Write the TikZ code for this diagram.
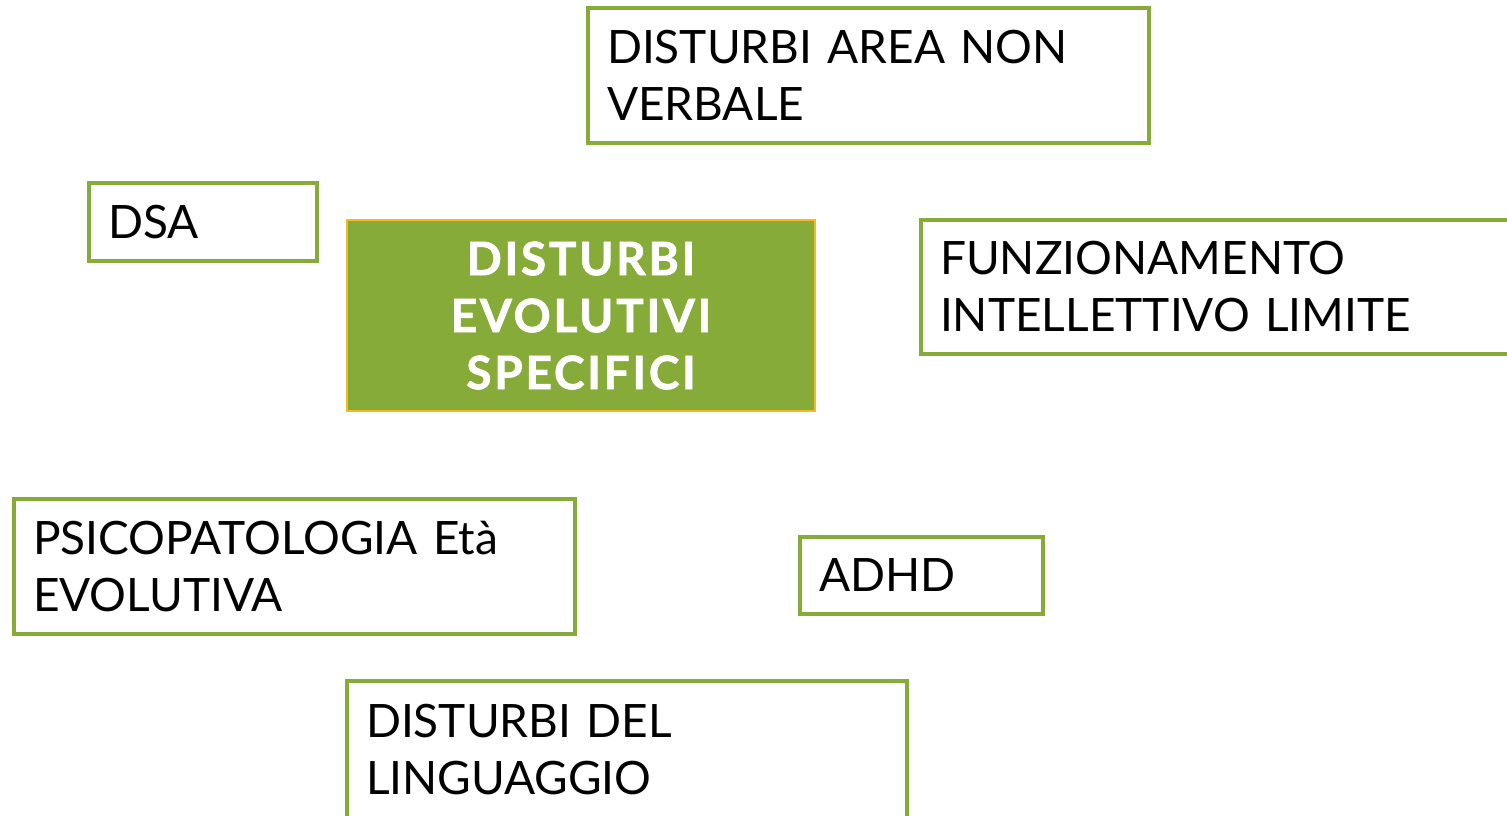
\documentclass[tikz,border=0pt]{standalone}
\usepackage{fontspec}
\setmainfont{Lato}
\newfontfamily\centrofont[FakeBold=1.5,LetterSpace=6]{Lato Bold}
\definecolor{verde}{RGB}{134,171,57}
\definecolor{arancio}{RGB}{247,186,30}
\newcommand{\testo}{\fontsize{46}{57}\selectfont}
\tikzset{
  voce/.style={draw=verde, line width=4.5pt, fill=white, anchor=north west,
    outer sep=0pt, inner xsep=19pt, inner ysep=0pt, align=left, font=\testo},
  centro/.style={draw=arancio, line width=1.5pt, fill=verde, text=white,
    anchor=north west, outer sep=0pt, inner sep=0pt, align=center,
    font=\centrofont\testo},
}
\begin{document}
\begin{tikzpicture}[x=1pt,y=-1pt]
\useasboundingbox (0,0) rectangle (1507,815);
\clip (0,0) rectangle (1507,815);
% Central box
\node [centro, minimum width=468pt, minimum height=191pt] (des) at (347,220)
  {DISTURBI\\EVOLUTIVI\\SPECIFICI};
% Boxes round it
\node [voce, text width=523pt, minimum height=135pt] (nonverbale) at (588,8)
  {DISTURBI AREA NON\\VERBALE};
\node [voce, text width=190pt, minimum height=78pt] (dsa) at (89,183) {DSA};
\node [voce, text width=596pt, minimum height=134pt] (fil) at (921,220)
  {FUNZIONAMENTO\\INTELLETTIVO LIMITE};
\node [voce, text width=523pt, minimum height=135pt] (psico) at (14,499)
  {PSICOPATOLOGIA Età\\EVOLUTIVA};
\node [voce, text width=205pt, minimum height=77pt] (adhd) at (800,537) {ADHD};
\node [voce, text width=522pt, minimum height=137pt] (linguaggio) at (347,681)
  {DISTURBI DEL\\LINGUAGGIO};
\end{tikzpicture}
\end{document}
